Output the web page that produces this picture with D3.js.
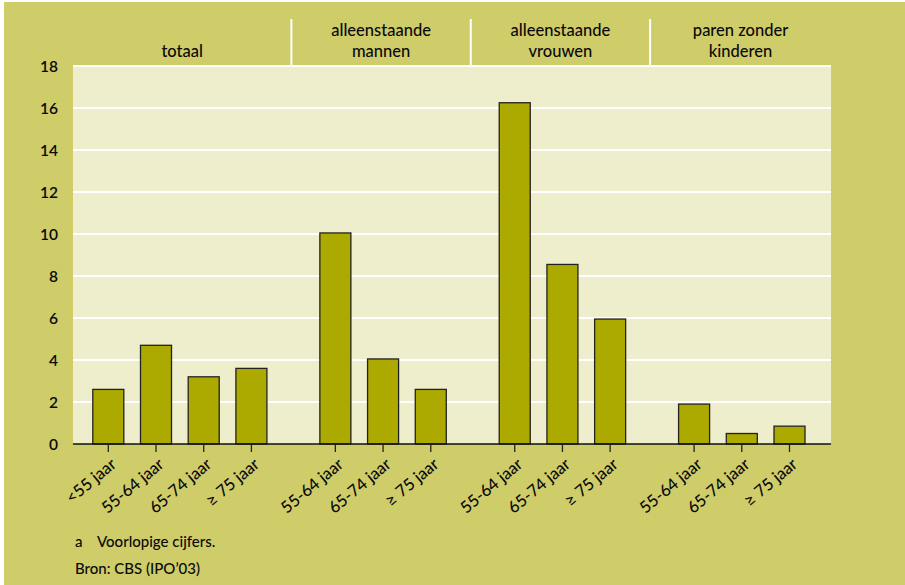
<!DOCTYPE html>
<html><head><meta charset="utf-8">
<script src="https://cdn.jsdelivr.net/npm/d3@7"></script>
<style>
html,body{margin:0;padding:0;background:#fff;}
text{font-family:Lato,"Open Sans",sans-serif;fill:#0a0a0a;}
</style></head>
<body>
<svg id="chart" width="905" height="585"></svg>
<script>
// ---- data ----
const groupTitles = [["totaal"], ["alleenstaande", "mannen"], ["alleenstaande", "vrouwen"], ["paren zonder", "kinderen"]];
const groupCategories = [
  ["<55 jaar", "55-64 jaar", "65-74 jaar", "\u2265 75 jaar"],
  ["55-64 jaar", "65-74 jaar", "\u2265 75 jaar"],
  ["55-64 jaar", "65-74 jaar", "\u2265 75 jaar"],
  ["55-64 jaar", "65-74 jaar", "\u2265 75 jaar"]
];
const totaalValues = [2.6, 4.7, 3.2, 3.6];
const mannenValues = [10.05, 4.05, 2.6];
const vrouwenValues = [16.25, 8.55, 5.95];
const parenValues = [1.9, 0.5, 0.85];
const yTicks = [0, 2, 4, 6, 8, 10, 12, 14, 16, 18];
const footnotes = [["a", "Voorlopige cijfers."], ["", "Bron: CBS (IPO\u201903)"]];

const groupValues = [totaalValues, mannenValues, vrouwenValues, parenValues];

// ---- layout ----
const W = 905, H = 585;
const plot = {left: 73, right: 831, top: 66, bottom: 444};
const gapSlots = 0.76;
const svg = d3.select("#chart");

svg.append("rect").attr("x", 4).attr("y", 2).attr("width", W - 4).attr("height", H - 2).attr("fill", "#cfcc6a");

// flatten records
const records = [];
let gi = 0;
groupCategories.forEach((cats, g) => {
  cats.forEach((c, i) => {
    records.push({group: g, cat: c, value: groupValues[g][i], slot: gi + g * gapSlots});
    gi++;
  });
});
const lastSlot = d3.max(records, d => d.slot);
const x = d3.scaleLinear().domain([-0.74, lastSlot + 0.87]).range([plot.left, plot.right]);
const step = x(1) - x(0);
const barW = step * 0.65;
const y = d3.scaleLinear().domain([0, 18]).range([plot.bottom, plot.top]);

// plot background
svg.append("rect").attr("x", plot.left).attr("y", plot.top)
  .attr("width", plot.right - plot.left).attr("height", plot.bottom - plot.top).attr("fill", "#eeedcc");

// gridlines
svg.append("g").selectAll("line").data(yTicks.filter(t => t > 0)).join("line")
  .attr("x1", plot.left).attr("x2", plot.right)
  .attr("y1", d => y(d)).attr("y2", d => y(d))
  .attr("stroke", "#fff").attr("stroke-width", 2);

// y axis labels
const yAxis = d3.axisLeft(y).tickValues(yTicks).tickSize(0).tickPadding(0);
const yg = svg.append("g").attr("transform", `translate(${58},0)`).call(yAxis);
yg.select(".domain").remove();
yg.selectAll("text").attr("font-size", 15.5).attr("font-weight", 600).attr("fill", "#0a0a0a")
  .style("font-family", "Lato, sans-serif").attr("dy", "0.35em");

// bars
svg.append("g").selectAll("rect").data(records).join("rect")
  .attr("x", d => x(d.slot) - barW / 2)
  .attr("y", d => y(d.value))
  .attr("width", barW)
  .attr("height", d => y(0) - y(d.value))
  .attr("fill", "#acaa00").attr("stroke", "#222").attr("stroke-width", 1.3);

// baseline + ticks
svg.append("line").attr("x1", plot.left).attr("x2", plot.right)
  .attr("y1", y(0)).attr("y2", y(0)).attr("stroke", "#111").attr("stroke-width", 1.6);
svg.append("g").selectAll("line").data(records).join("line")
  .attr("x1", d => x(d.slot)).attr("x2", d => x(d.slot))
  .attr("y1", y(0)).attr("y2", y(0) + 8).attr("stroke", "#222").attr("stroke-width", 1.3);

// x labels
svg.append("g").selectAll("text").data(records).join("text")
  .attr("transform", d => `translate(${x(d.slot) + 9},${y(0) + 22}) rotate(-40)`)
  .attr("text-anchor", "end").attr("font-size", 16.5).attr("font-weight", 500)
  .text(d => d.cat);

// group dividers & headers
const groupBounds = [plot.left];
for (let g = 0; g < groupCategories.length - 1; g++) {
  const a = d3.max(records.filter(r => r.group === g), r => r.slot);
  const b = d3.min(records.filter(r => r.group === g + 1), r => r.slot);
  groupBounds.push(x((a + b) / 2) - 2);
}
groupBounds.push(plot.right);
svg.append("g").selectAll("line").data(groupBounds.slice(1, -1)).join("line")
  .attr("x1", d => d).attr("x2", d => d).attr("y1", 19).attr("y2", plot.top)
  .attr("stroke", "#fff").attr("stroke-width", 2);
// top white line
svg.append("line").attr("x1", plot.left).attr("x2", plot.right).attr("y1", plot.top).attr("y2", plot.top)
  .attr("stroke", "#fff").attr("stroke-width", 2);

groupTitles.forEach((lines, g) => {
  const cx = (groupBounds[g] + groupBounds[g + 1]) / 2;
  const t = svg.append("text").attr("text-anchor", "middle").attr("font-size", 16.5).attr("font-weight", 500);
  lines.forEach((ln, i) => {
    t.append("tspan").attr("x", cx).attr("y", 57 - (lines.length - 1 - i) * 21).text(ln);
  });
});

// footnotes
footnotes.forEach((f, i) => {
  const yy = 547 + i * 27;
  if (f[0]) svg.append("text").attr("x", 75).attr("y", yy).attr("font-size", 15).attr("font-weight", 500).text(f[0]);
  svg.append("text").attr("x", f[0] ? 97 : 75).attr("y", yy).attr("font-size", 15).attr("font-weight", 500).text(f[1]);
});
</script>
</body></html>
